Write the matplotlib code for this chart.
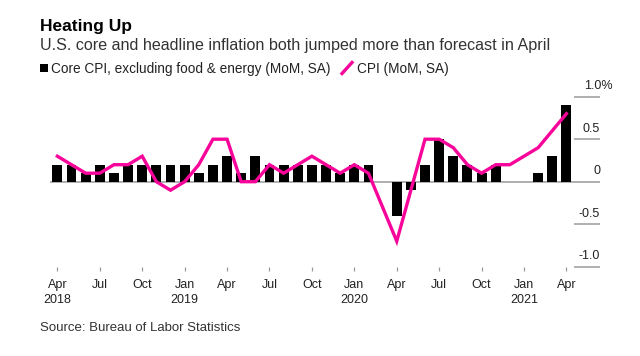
import matplotlib
matplotlib.use("Agg")
import matplotlib.pyplot as plt
import matplotlib.transforms as mtransforms
from matplotlib.patches import Rectangle
from matplotlib.lines import Line2D

plt.rcParams['font.family'] = ['Liberation Sans', 'DejaVu Sans']

# ---- data (monthly, Apr 2018 .. Apr 2021) ----
months = list(range(37))
core_cpi = [0.2, 0.2, 0.1, 0.2, 0.1, 0.2, 0.2, 0.2, 0.2,
            0.2, 0.1, 0.2, 0.3, 0.1, 0.3, 0.2, 0.2, 0.2, 0.2, 0.2, 0.1,
            0.2, 0.2, 0.0, -0.4, -0.1, 0.2, 0.5, 0.3, 0.2, 0.1, 0.2, 0.0,
            0.0, 0.1, 0.3, 0.9]
cpi = [0.3, 0.2, 0.1, 0.1, 0.2, 0.2, 0.3, 0.0, -0.1,
       0.0, 0.2, 0.5, 0.5, 0.0, 0.0, 0.2, 0.1, 0.2, 0.3, 0.2, 0.1,
       0.2, 0.1, -0.3, -0.7, -0.1, 0.5, 0.5, 0.4, 0.2, 0.1, 0.2, 0.2,
       0.3, 0.4, 0.6, 0.8]
xtick_pos = list(range(0, 37, 3))
xtick_labels = ["Apr\n2018", "Jul", "Oct", "Jan\n2019", "Apr", "Jul", "Oct",
                "Jan\n2020", "Apr", "Jul", "Oct", "Jan\n2021", "Apr"]
ytick_pos = [-1.0, -0.5, 0.0, 0.5, 1.0]
ytick_labels = ["-1.0", "-0.5", "0", "0.5", "1.0%"]

PINK = '#f7059a'
GRAY = '#9a9a9a'
TXT = '#222222'

W, H = 640, 356
fig = plt.figure(figsize=(W / 100, H / 100), dpi=100)

def fx(px):
    return px / W

def fy(py):
    return 1 - py / H

AX_L, AX_R, AX_T, AX_B = 50.3, 573.5, 96.7, 266.7
ax = fig.add_axes([fx(AX_L), fy(AX_B), (AX_R - AX_L) / W, (AX_B - AX_T) / H])

ax.axhline(0, color=GRAY, lw=1.1, zorder=1)
ax.bar(months, core_cpi, width=0.7, color='black', zorder=2)
ax.plot(months, cpi, color=PINK, lw=2.4, zorder=3, solid_joinstyle='miter')

ax.set_xlim(-0.5, 36.5)
ax.set_ylim(-1.0, 1.0)
for s in ax.spines.values():
    s.set_visible(False)

ax.set_xticks(xtick_pos)
ax.set_xticklabels(xtick_labels, linespacing=1.35)
ax.tick_params(axis='x', length=3, width=0.9, color=GRAY, pad=6,
               labelsize=9, labelcolor=TXT)

# right-hand y ticks: short gray rules with labels sitting above them
ax.yaxis.tick_right()
ax.set_yticks(ytick_pos)
ax.tick_params(axis='y', length=(600 - AX_R) * 0.72, width=1.1, color=GRAY,
               labelleft=False, labelright=False)
ytrans = ax.get_yaxis_transform()
for val, lab in zip(ytick_pos, ytick_labels):
    dx = (600 - AX_R) / 100
    if lab.endswith('%'):
        dx += 12.5 / 100
    off = mtransforms.ScaledTranslation(dx, 7.5 / 100, fig.dpi_scale_trans)
    ax.text(1.0, val, lab, transform=ytrans + off, ha='right', va='baseline',
            fontsize=9, color=TXT, clip_on=False)

# ---- titles ----
fig.text(fx(40), fy(30.5), "Heating Up", fontsize=12.5, fontweight='bold',
         color='black', va='baseline')
fig.text(fx(40), fy(50), "U.S. core and headline inflation both jumped more than forecast in April",
         fontsize=11.6, color='#333333', va='baseline')

# ---- legend ----
fig.add_artist(Rectangle((fx(40), fy(72)), 8 / W, 8.5 / H, transform=fig.transFigure,
                         facecolor='black', edgecolor='none'))
fig.text(fx(51), fy(72.5), "Core CPI, excluding food & energy (MoM, SA)",
         fontsize=9.8, color=TXT, va='baseline')
fig.add_artist(Line2D([fx(342), fx(352)], [fy(73.5), fy(62.5)], transform=fig.transFigure,
                      color=PINK, lw=2.4))
fig.text(fx(357), fy(72.5), "CPI (MoM, SA)", fontsize=9.8, color=TXT, va='baseline')

# ---- source ----
fig.text(fx(40), fy(331), "Source: Bureau of Labor Statistics", fontsize=9.5,
         color='#333333', va='baseline')

fig.savefig("out.png", dpi=100)
